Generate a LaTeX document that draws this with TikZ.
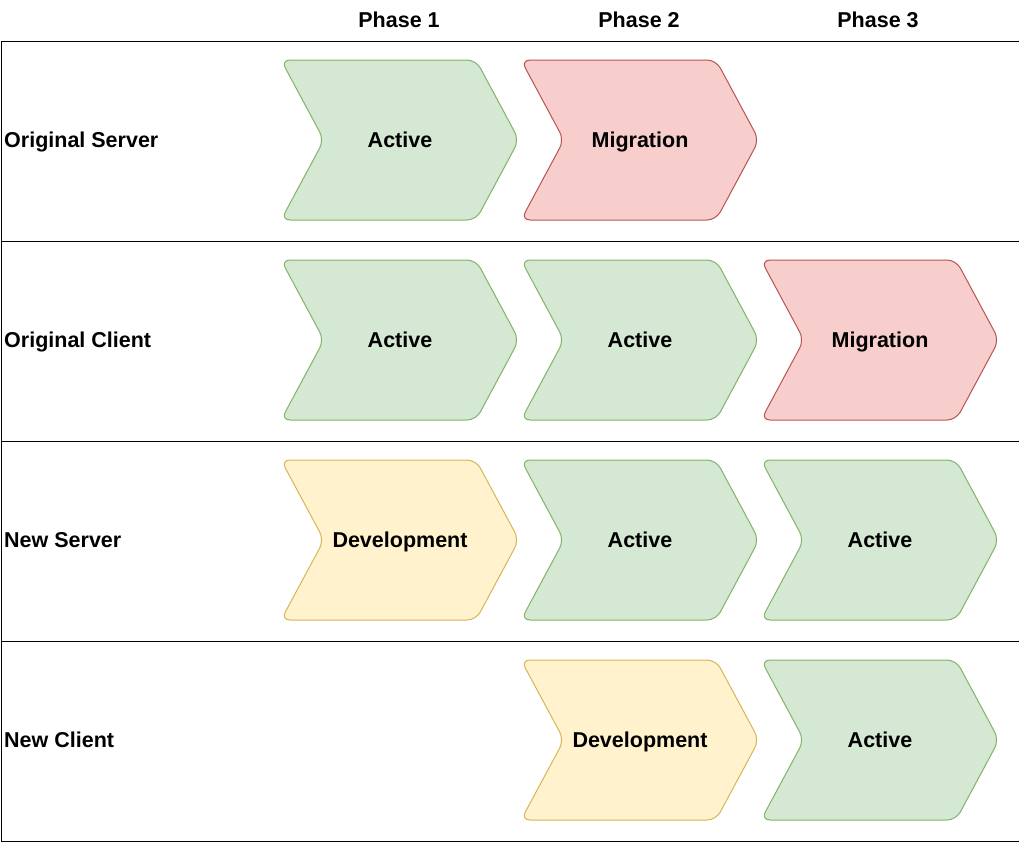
\documentclass[tikz,border=0pt]{standalone}
\usepackage{fontspec}
\setmainfont{Liberation Sans}
\definecolor{gfill}{HTML}{D5E8D4}
\definecolor{gline}{HTML}{82B366}
\definecolor{rfill}{HTML}{F8CECC}
\definecolor{rline}{HTML}{B85450}
\definecolor{yfill}{HTML}{FFF2CC}
\definecolor{yline}{HTML}{D6B656}
\tikzset{
  lbl/.style={font=\bfseries\fontsize{21.5}{25}\selectfont, inner sep=0pt, anchor=base},
  rowbox/.style={draw=black, line width=1pt, minimum width=1018pt, minimum height=200pt, inner sep=0pt, anchor=north west},
  green/.style={fill=gfill, draw=gline},
  red/.style={fill=rfill, draw=rline},
  yellow/.style={fill=yfill, draw=yline},
}
\newcommand{\chev}[5]{%
  \draw[#4, line width=1pt, rounded corners=9pt]
    (#2-2,#3) -- ++(195,0) -- ++(43,80) -- ++(-43,80) -- ++(-195,0) -- ++(43,-80) -- cycle;
  \node[lbl] (#1) at (#2+117,#3+87.5) {#5};}
\begin{document}
\begin{tikzpicture}[x=1pt,y=-1pt]
\useasboundingbox (0,0) rectangle (1019,841);
\node[rowbox] (r1) at (0.5,40.5) {};
\node[rowbox] (r2) at (0.5,240.5) {};
\node[rowbox] (r3) at (0.5,440.5) {};
\node[rowbox] (r4) at (0.5,640.5) {};
\node[lbl] (h1) at (399,27.5) {Phase 1};
\node[lbl] (h2) at (639,27.5) {Phase 2};
\node[lbl] (h3) at (878,27.5) {Phase 3};
\node[lbl, anchor=base west] (l1) at (4,147.5) {Original Server};
\node[lbl, anchor=base west] (l2) at (4,347.5) {Original Client};
\node[lbl, anchor=base west] (l3) at (4,547.5) {New Server};
\node[lbl, anchor=base west] (l4) at (4,747.5) {New Client};
\chev{c11}{283}{60}{green}{Active}
\chev{c12}{523}{60}{red}{Migration}
\chev{c21}{283}{260}{green}{Active}
\chev{c22}{523}{260}{green}{Active}
\chev{c23}{763}{260}{red}{Migration}
\chev{c31}{283}{460}{yellow}{Development}
\chev{c32}{523}{460}{green}{Active}
\chev{c33}{763}{460}{green}{Active}
\chev{c42}{523}{660}{yellow}{Development}
\chev{c43}{763}{660}{green}{Active}
\end{tikzpicture}
\end{document}
